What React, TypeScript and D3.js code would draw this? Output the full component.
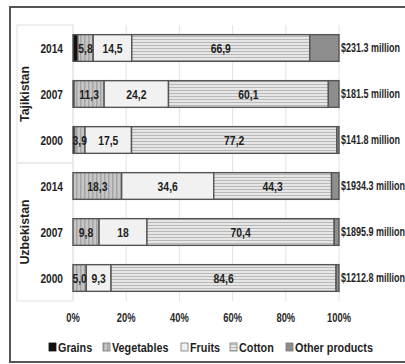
import React from "react";
import * as d3 from "d3";

// Export structure shares (% of total), per country and year
const countries = ["Tajikistan", "Uzbekistan"];
const years = ["2014", "2007", "2000"];
const rowKeys = ["TJ-2014", "TJ-2007", "TJ-2000", "UZ-2014", "UZ-2007", "UZ-2000"];
const totals = ["$231.3 million", "$181.5 million", "$141.8 million", "$1934.3 million", "$1895.9 million", "$1212.8 million"];

const seriesNames = ["Grains", "Vegetables", "Fruits", "Cotton", "Other products"];
const grains = ["1.8", "0.4", "0.6", "0", "0", "0"];
const vegetables = ["5.8", "11.3", "3.9", "18.3", "9.8", "5.0"];
const fruits = ["14.5", "24.2", "17.5", "34.6", "18", "9.3"];
const cotton = ["66.9", "60.1", "77.2", "44.3", "70.4", "84.6"];
const otherProducts = ["11.0", "4.0", "0.8", "2.8", "1.8", "1.1"];
const labelled = [false, true, true, true, false];

const xTicks = [0, 20, 40, 60, 80, 100];

const seriesData = [grains, vegetables, fruits, cotton, otherProducts];

const FONT = "'Liberation Sans', Arial, sans-serif";

// Condensed bold text: horizontally squeezed to mimic a narrow face
function T(props: {
  x: number;
  y: number;
  size: number;
  sx?: number;
  rotate?: number;
  anchor?: "start" | "middle" | "end";
  fill?: string;
  children: React.ReactNode;
}) {
  const { x, y, size, sx = 0.8, rotate = 0, anchor = "start", fill = "#1e1e1e", children } = props;
  return (
    <text
      transform={`translate(${x},${y}) rotate(${rotate}) scale(${sx},1)`}
      dy="0.35em"
      textAnchor={anchor}
      fontSize={size}
      fontWeight="bold"
      fill={fill}
    >
      {children}
    </text>
  );
}

export default function App() {
  const W = 405;
  const H = 364;
  const x = d3.scaleLinear().domain([0, 100]).range([73, 339]);
  const y = d3.scaleBand().domain(rowKeys).range([25, 301]).paddingInner(0.42).paddingOuter(0.21);

  const table = rowKeys.map((k, i) => {
    const row: any = { key: k };
    seriesNames.forEach((s, j) => (row[s] = Number(seriesData[j][i])));
    return row;
  });
  const stacked = d3.stack().keys(seriesNames)(table);

  const fills = ["#111", "url(#vegPat)", "#f1f1f1", "url(#cotPat)", "#8e8e8e"];
  const fmt = (s: string) => s.replace(".", ",");
  const step = y.step();
  const groupTop = (g: number) => y(rowKeys[g * 3])! - (step - y.bandwidth()) / 2;
  const mid = (k: string) => y(k)! + y.bandwidth() / 2;

  return (
    <svg width={W} height={H} style={{ position: "absolute", left: 0, top: 0, fontFamily: FONT }}>
      <defs>
        <pattern id="vegPat" width="4" height="4" patternUnits="userSpaceOnUse">
          <rect width="4" height="4" fill="#c6c6c6" />
          <rect width="1.5" height="4" fill="#a4a4a4" />
        </pattern>
        <pattern id="cotPat" width="4" height="3" patternUnits="userSpaceOnUse">
          <rect width="4" height="3" fill="#e6e6e6" />
          <rect width="4" height="1" fill="#b8b8b8" />
        </pattern>
      </defs>
      <rect x={0} y={0} width={W} height={H} fill="#fff" />
      <rect x={10} y={7} width={404} height={355} fill="#fff" stroke="#555" strokeWidth={2} />

      {/* category panel */}
      <rect x={17} y={25} width={56} height={276} fill="#fff" stroke="#e2e2e2" strokeWidth={1} />
      <line x1={17} x2={73} y1={groupTop(1)} y2={groupTop(1)} stroke="#d8d8d8" />

      {/* grid */}
      {xTicks.map((t) => (
        <line key={t} x1={x(t)} x2={x(t)} y1={25} y2={301} stroke="#e3e3e3" strokeWidth={1} />
      ))}

      {/* bars */}
      {stacked.map((layer, j) =>
        layer.map((d, i) => {
          const w = x(d[1]) - x(d[0]);
          if (w <= 0) return null;
          return (
            <rect
              key={`${j}-${i}`}
              x={x(d[0])}
              y={y(rowKeys[i])}
              width={w}
              height={y.bandwidth()}
              fill={fills[j]}
              stroke="#555"
              strokeWidth={1.4}
            />
          );
        })
      )}

      {/* value labels */}
      {stacked.map((layer, j) =>
        labelled[j]
          ? layer.map((d, i) => (
              <T key={`l${j}-${i}`} x={(x(d[0]) + x(d[1])) / 2} y={mid(rowKeys[i])} size={13} sx={0.8} anchor="middle">
                {fmt(seriesData[j][i])}
              </T>
            ))
          : null
      )}

      {/* totals */}
      {rowKeys.map((k, i) => (
        <T key={`t${k}`} x={341} y={mid(k)} size={12.5} sx={0.72}>
          {totals[i]}
        </T>
      ))}

      {/* year labels */}
      {rowKeys.map((k, i) => (
        <T key={`y${k}`} x={63} y={mid(k)} size={13} sx={0.78} anchor="end">
          {years[i % 3]}
        </T>
      ))}

      {/* country labels */}
      {countries.map((c, g) => (
        <T key={c} x={24} y={groupTop(g) + (step * 3) / 2} size={13} sx={0.95} rotate={-90} anchor="middle">
          {c}
        </T>
      ))}

      {/* x axis tick labels */}
      {xTicks.map((t) => (
        <T key={`x${t}`} x={x(t)} y={318} size={12.5} sx={0.75} anchor="middle" fill="#2a2a2a">
          {`${t}%`}
        </T>
      ))}

      {/* legend */}
      {(() => {
        const xs = [49, 103, 181, 230, 286];
        return seriesNames.map((s, j) => (
          <g key={s} transform={`translate(${xs[j]},347)`}>
            <rect x={0} y={-4} width={7} height={8} fill={fills[j]} stroke={j === 0 ? "#111" : "#777"} strokeWidth={0.8} />
            <T x={9} y={0} size={13.5} sx={0.8}>
              {s}
            </T>
          </g>
        ));
      })()}
    </svg>
  );
}
